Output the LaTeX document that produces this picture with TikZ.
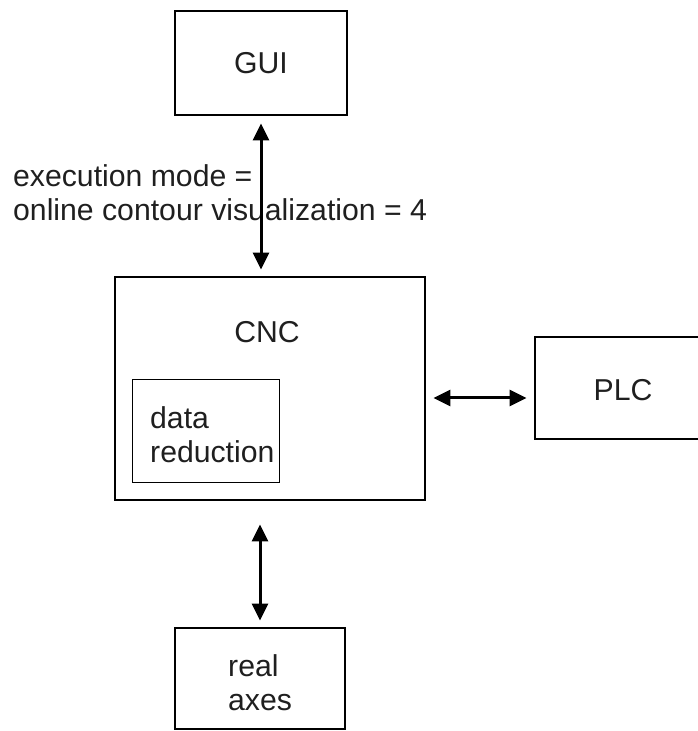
\documentclass[tikz,border=0pt]{standalone}
\usepackage{fontspec}
\setmainfont{Liberation Sans}
\usetikzlibrary{arrows.meta,calc}
\begin{document}
\begin{tikzpicture}[x=1pt,y=1pt,
  box/.style={draw=black,line width=2.9pt,minimum width=#1,inner sep=0pt},
  lbl/.style={font=\fontsize{30.2}{34}\selectfont,inner sep=0pt,text=black!88},
  dblarrow/.style={line width=3pt,{Triangle[width=16pt,length=17pt]}-{Triangle[width=16pt,length=17pt]}}]
\useasboundingbox (0,0) rectangle (697,731);
% boxes
\node[box=172pt,minimum height=104pt] (gui) at (261,668) {};
\node[lbl] (guit) at (261,668) {GUI};
\node[box=310pt,minimum height=223pt] (cnc) at (270,342.5) {};
\node[lbl] (cnct) at (267,399) {CNC};
\node[draw=black,line width=1pt,minimum width=147pt,minimum height=103pt,inner sep=0pt] (red) at (205.5,299.5) {};
\node[lbl,anchor=west,align=left] (redt) at (150,296) {data\\reduction};
\node[box=164pt,minimum height=102pt] (plc) at (617,343) {};
\node[lbl] (plct) at (623,341) {PLC};
\node[box=170pt,minimum height=101pt] (axes) at (260,52.5) {};
\node[lbl,anchor=west,align=left] (axest) at (228,48) {real\\axes};
% label
\node[lbl,anchor=west,align=left] (mode) at (13,538) {execution mode =\\online contour visualization = 4};
% connectors
\draw[dblarrow,shorten <=7pt,shorten >=6pt] (gui.south) -- (gui.south |- cnc.north);
\draw[dblarrow,shorten <=7pt,shorten >=7pt] (cnc.east |- 0,333) -- (plc.west |- 0,333);
\draw[dblarrow,shorten <=23pt,shorten >=6pt] (axes.north |- cnc.south) -- (axes.north);
\end{tikzpicture}
\end{document}
